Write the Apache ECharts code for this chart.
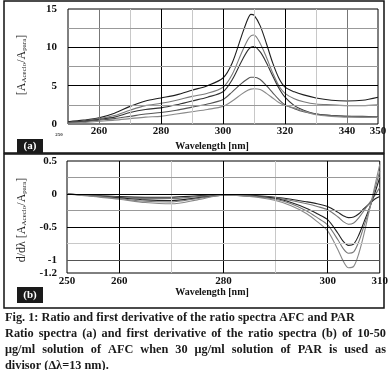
<!DOCTYPE html>
<html><head><meta charset="utf-8">
<script src="https://cdn.jsdelivr.net/npm/echarts@6/dist/echarts.min.js"></script>
<style>html,body{margin:0;padding:0;background:#fff}#c{width:391px;height:370px}</style>
</head><body><div id="c"></div>
<script>
// ---- Data: (a) ratio spectra ----
const wlRatio = [250,255,260,265,270,275,280,285,290,295,300,303,306,308,309,310,312,314,316,318,320,323,326,330,335,340,345,350];
const ratio50 = [0.3,0.5,0.8,1.4,2.3,3.0,3.4,3.8,4.4,5.0,6.0,8.0,11.5,13.7,14.3,14.2,12.8,10.5,8.0,6.0,4.8,4.2,3.8,3.4,3.1,3.0,3.1,3.5];
const ratio40 = [0.2,0.4,0.7,1.1,1.8,2.4,2.7,3.1,3.6,4.0,4.8,6.5,9.3,11.0,11.5,11.6,10.5,8.7,6.7,5.0,4.0,3.3,2.9,2.6,2.5,2.4,2.4,2.5];
const ratio30 = [0.2,0.35,0.6,0.9,1.5,1.9,2.1,2.5,3.0,3.5,4.2,5.8,8.2,9.6,10.0,10.1,9.4,8.0,6.3,4.7,3.5,2.4,1.8,1.3,1.1,1.0,1.0,0.9];
const ratio20 = [0.15,0.3,0.5,0.7,1.0,1.3,1.5,1.8,2.2,2.6,3.2,4.2,5.3,5.9,6.1,6.1,5.8,5.0,4.1,3.2,2.5,2.0,1.6,1.3,1.1,1.0,0.9,0.9];
const ratio10 = [0.1,0.2,0.35,0.5,0.7,0.9,1.0,1.3,1.6,1.9,2.3,3.0,3.9,4.4,4.55,4.6,4.5,4.0,3.4,2.8,2.4,2.1,1.7,1.2,1.0,0.9,0.9,0.85];
// ---- Data: (b) first derivative ----
const wlDeriv = [250,255,260,265,270,275,280,285,290,293,296,298,300,302,303,304,305,306,307,308,309,310];
const derivA = [0,-0.02,-0.04,-0.05,-0.05,-0.03,-0.01,-0.02,-0.05,-0.08,-0.12,-0.15,-0.19,-0.28,-0.33,-0.36,-0.35,-0.30,-0.22,-0.15,-0.08,-0.04];
const derivB = [0,-0.02,-0.05,-0.07,-0.07,-0.04,-0.015,-0.03,-0.06,-0.10,-0.15,-0.19,-0.24,-0.35,-0.42,-0.46,-0.44,-0.36,-0.25,-0.14,-0.03,0.10];
const derivC = [0,-0.03,-0.06,-0.09,-0.10,-0.06,-0.02,-0.03,-0.07,-0.13,-0.22,-0.30,-0.39,-0.60,-0.72,-0.78,-0.76,-0.62,-0.42,-0.22,0.0,0.25];
const derivD = [0,-0.03,-0.07,-0.11,-0.12,-0.07,-0.02,-0.03,-0.08,-0.15,-0.26,-0.36,-0.47,-0.70,-0.83,-0.90,-0.88,-0.72,-0.48,-0.24,0.05,0.35];
const derivE = [0,-0.04,-0.08,-0.13,-0.15,-0.09,-0.02,-0.04,-0.10,-0.18,-0.30,-0.42,-0.56,-0.85,-1.02,-1.12,-1.10,-0.90,-0.60,-0.25,0.10,0.45];
// ---- Tick labels ----
const topXLabels = [250,260,280,300,320,340,350];
const topYLabels = [0,5,10,15];
const botXLabels = [250,260,280,300,310];
const botYLabels = [0.5,0,-0.5,-1,-1.2];
const captionLines = [
  'Fig. 1: Ratio and first derivative of the ratio spectra AFC and PAR',
  'Ratio spectra (a) and first derivative of the ratio spectra (b) of 10-50',
  'μg/ml solution of AFC when 30 μg/ml solution of PAR is used as',
  'divisor (Δλ=13 nm).'
];

const FONT = '"Liberation Serif", "Times New Roman", serif';
const zip = (xs, ys) => xs.map((x, i) => [x, ys[i]]);

function curve(name, xs, ys, color, idx) {
  return { name, type: 'line', xAxisIndex: idx, yAxisIndex: idx, data: zip(xs, ys),
    smooth: 0.3, showSymbol: false, z: 3, lineStyle: { color, width: 1.1 }, itemStyle: { color } };
}
function gridLines(idx, xr, yr, xs, ys) {
  const data = xs.map(v => [{ coord: [v[0], yr[0]], lineStyle: { color: v[1], width: 1, type: 'solid' } }, { coord: [v[0], yr[1]] }])
    .concat(ys.map(v => [{ coord: [xr[0], v[0]], lineStyle: { color: v[1], width: 1, type: 'solid' } }, { coord: [xr[1], v[0]] }]));
  return { type: 'line', xAxisIndex: idx, yAxisIndex: idx, data: [], z: 1, silent: true,
    markLine: { silent: true, symbol: 'none', label: { show: false }, animation: false, precision: 4, data } };
}

const labelStyle = { fontFamily: FONT, fontWeight: 'bold', fontSize: 11, color: '#111' };

// caption layout (justify)
const ctx = document.createElement('canvas').getContext('2d');
function measure(t, size) { ctx.font = 'bold ' + size + 'px ' + FONT; return ctx.measureText(t).width; }
let capSize = 13;
capSize = Math.min(14, capSize * 350 / measure(captionLines[0], capSize));
const capX = 5, capW = 381, capY = [318, 334, 350, 366];
const capEls = [];
captionLines.forEach((line, i) => {
  const justify = (i === 1 || i === 2);
  if (!justify) {
    capEls.push({ type: 'text', x: capX, y: capY[i], style: { text: line, font: 'bold ' + capSize + 'px ' + FONT, fill: '#1a1a1a', verticalAlign: 'middle' } });
  } else {
    const words = line.split(' ');
    const ws = words.map(w => measure(w, capSize));
    const total = ws.reduce((a, b) => a + b, 0);
    const gap = (capW - total) / (words.length - 1);
    let x = capX;
    words.forEach((w, k) => {
      capEls.push({ type: 'text', x, y: capY[i], style: { text: w, font: 'bold ' + capSize + 'px ' + FONT, fill: '#1a1a1a', verticalAlign: 'middle' } });
      x += ws[k] + gap;
    });
  }
});

const chart = echarts.init(document.getElementById('c'), null, { renderer: 'canvas' });
chart.setOption({
  animation: false,
  backgroundColor: '#fff',
  grid: [
    { left: 68, top: 9, width: 310, height: 115, show: true, borderColor: '#000', borderWidth: 1, backgroundColor: 'transparent' },
    { left: 67, top: 161, width: 314, height: 112, show: true, borderColor: '#000', borderWidth: 1, backgroundColor: 'transparent' }
  ],
  xAxis: [
    { type: 'value', gridIndex: 0, min: 250, max: 350, interval: 10,
      axisLine: { show: false }, axisTick: { show: false }, splitLine: { show: false },
      axisLabel: Object.assign({}, labelStyle, { margin: 2,
        formatter: v => v === 250 ? '{s|250}' : (topXLabels.includes(v) ? String(v) : ''),
        rich: { s: { fontSize: 5, fontFamily: FONT, fontWeight: 'bold', color: '#333', padding: [6, 18, 0, 0] } } }) },
    { type: 'value', gridIndex: 1, min: 250, max: 310, interval: 10,
      axisLine: { show: false }, axisTick: { show: false }, splitLine: { show: false },
      axisLabel: Object.assign({}, labelStyle, { margin: 3,
        formatter: v => botXLabels.includes(v) ? String(v) : '' }) }
  ],
  yAxis: [
    { type: 'value', gridIndex: 0, min: 0, max: 15, interval: 5,
      axisLine: { show: false }, axisTick: { show: false }, splitLine: { show: false },
      axisLabel: Object.assign({}, labelStyle, { margin: 11,
        formatter: v => topYLabels.includes(v) ? String(v) : '' }) },
    { type: 'value', gridIndex: 1, min: -1.2, max: 0.5,
      axisLine: { show: false }, axisTick: { show: false }, splitLine: { show: false },
      axisLabel: Object.assign({}, labelStyle, { margin: 10, customValues: botYLabels,
        formatter: v => String(Math.round(v * 100) / 100) }) }
  ],
  series: [
    gridLines(0, [250, 350], [0, 15],
      [[260,'#777'],[270,'#c8c8c8'],[280,'#000'],[290,'#c8c8c8'],[300,'#000'],[310,'#c8c8c8'],[320,'#000'],[330,'#c8c8c8'],[340,'#777']],
      [[2.5,'#999'],[5,'#000'],[7.5,'#999'],[10,'#000'],[12.5,'#999']]),
    gridLines(1, [250, 310], [-1.2, 0.5],
      [[260,'#000'],[270,'#c8c8c8'],[280,'#000'],[290,'#c8c8c8'],[300,'#000']],
      [[0.25,'#999'],[0,'#000'],[-0.25,'#999'],[-0.5,'#000'],[-0.75,'#c8c8c8'],[-1,'#555']]),
    curve('50 μg/ml', wlRatio, ratio50, '#1e1e1e', 0),
    curve('40 μg/ml', wlRatio, ratio40, '#7a7a7a', 0),
    curve('30 μg/ml', wlRatio, ratio30, '#333333', 0),
    curve('20 μg/ml', wlRatio, ratio20, '#555555', 0),
    curve('10 μg/ml', wlRatio, ratio10, '#8a8a8a', 0),
    curve('d A', wlDeriv, derivA, '#222222', 1),
    curve('d B', wlDeriv, derivB, '#777777', 1),
    curve('d C', wlDeriv, derivC, '#222222', 1),
    curve('d D', wlDeriv, derivD, '#777777', 1),
    curve('d E', wlDeriv, derivE, '#888888', 1)
  ],
  graphic: [
    { type: 'rect', shape: { x: 4, y: 1, width: 380, height: 152 }, style: { fill: 'none', stroke: '#111', lineWidth: 1.5 }, z: 10 },
    { type: 'rect', shape: { x: 4, y: 154, width: 380, height: 154 }, style: { fill: 'none', stroke: '#111', lineWidth: 1.5 }, z: 10 },
    { type: 'rect', shape: { x: 17, y: 139, width: 26, height: 14 }, style: { fill: '#1a1a1a' }, z: 10 },
    { type: 'text', x: 30, y: 146, style: { text: '(a)', fill: '#fff', font: 'bold 11px ' + FONT, align: 'center', verticalAlign: 'middle' }, z: 11 },
    { type: 'rect', shape: { x: 17, y: 287, width: 26, height: 16 }, style: { fill: '#1a1a1a' }, z: 10 },
    { type: 'text', x: 30, y: 295, style: { text: '(b)', fill: '#fff', font: 'bold 11px ' + FONT, align: 'center', verticalAlign: 'middle' }, z: 11 },
    { type: 'text', x: 212, y: 146, style: { text: 'Wavelength [nm]', fill: '#111', font: 'bold 10px ' + FONT, align: 'center', verticalAlign: 'middle' }, z: 11 },
    { type: 'text', x: 212, y: 292, style: { text: 'Wavelength [nm]', fill: '#111', font: 'bold 10px ' + FONT, align: 'center', verticalAlign: 'middle' }, z: 11 },
    { type: 'text', x: 22, y: 65, rotation: Math.PI / 2,
      style: { text: '[A{sub|Aceclo}/A{sub|para}]', fill: '#222', font: '12px ' + FONT, align: 'center', verticalAlign: 'middle',
        rich: { sub: { fontSize: 7, fontFamily: FONT, fill: '#222', verticalAlign: 'bottom', padding: [4, 0, 0, 0] } } }, z: 11 },
    { type: 'text', x: 22, y: 220, rotation: Math.PI / 2,
      style: { text: 'd/dλ [A{sub|Aceclo}/A{sub|para}]', fill: '#222', font: '12px ' + FONT, align: 'center', verticalAlign: 'middle',
        rich: { sub: { fontSize: 7, fontFamily: FONT, fill: '#222', verticalAlign: 'bottom', padding: [4, 0, 0, 0] } } }, z: 11 }
  ].concat(capEls)
});
</script></body></html>
